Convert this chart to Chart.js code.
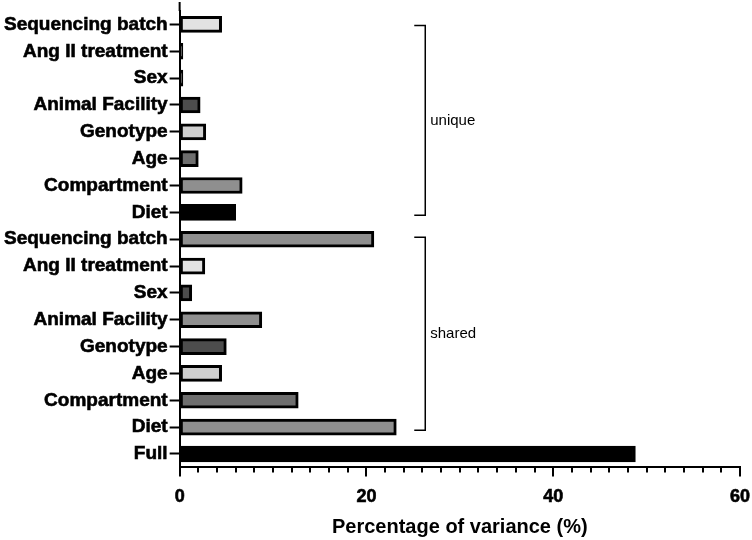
<!DOCTYPE html>
<html>
<head>
<meta charset="utf-8">
<script src="https://cdn.jsdelivr.net/npm/chart.js@4.4.0/dist/chart.umd.min.js"></script>
<style>
  html, body { margin: 0; padding: 0; background: #fff; }
  #wrap { width: 752px; height: 540px; }
</style>
</head>
<body>
<div id="wrap"><canvas id="chart" width="752" height="540"></canvas></div>
<script>
// Variance partitioning: unique and shared contributions
const categories = [
  'Sequencing batch', 'Ang II treatment', 'Sex', 'Animal Facility', 'Genotype', 'Age', 'Compartment', 'Diet',
  'Sequencing batch', 'Ang II treatment', 'Sex', 'Animal Facility', 'Genotype', 'Age', 'Compartment', 'Diet',
  'Full'
];
const variance = [
  4.5, 0.35, 0.35, 2.2, 2.8, 2.0, 6.7, 6.0,
  20.8, 2.7, 1.3, 8.8, 5.0, 4.5, 12.7, 23.2,
  48.8
];
const barColors = [
  '#e2e2e2', '#333333', '#333333', '#4d4d4d', '#cfcfcf', '#6e6e6e', '#8f8f8f', '#000000',
  '#8f8f8f', '#e2e2e2', '#4d4d4d', '#8f8f8f', '#4d4d4d', '#cfcfcf', '#6e6e6e', '#8f8f8f',
  '#000000'
];
const xTicks = [0, 20, 40, 60];
const groups = [
  { name: 'unique', from: 0, to: 7 },
  { name: 'shared', from: 8, to: 15 }
];

const FONT = "'Liberation Sans', Arial, sans-serif";

// brackets on the right plus x axis tick marks (major and minor)
const extras = {
  id: 'extras',
  afterDraw(chart) {
    const ctx = chart.ctx;
    const x = chart.scales.x, y = chart.scales.y;
    ctx.save();
    ctx.strokeStyle = '#000';
    ctx.fillStyle = '#000';

    // y axis line runs up to the top edge
    ctx.lineWidth = 2;
    ctx.beginPath();
    ctx.moveTo(x.left, 2);
    ctx.lineTo(x.left, y.top);
    ctx.stroke();

    // ticks: long at 0/20/40/60, short every 2 units
    for (let v = 0; v <= 60; v += 2) {
      const px = Math.round(x.getPixelForValue(v));
      const len = v % 20 === 0 ? 9 : 5;
      ctx.beginPath();
      ctx.moveTo(px, x.top);
      ctx.lineTo(px, x.top + len);
      ctx.stroke();
    }

    // group brackets
    ctx.lineWidth = 1.5;
    ctx.font = '15px ' + FONT;
    ctx.textBaseline = 'middle';
    const bx = x.getPixelForValue(26.3);
    groups.forEach(g => {
      const top = y.getPixelForValue(g.from) + (g.from === 0 ? 1 : -2);
      const bot = y.getPixelForValue(g.to) + 3;
      ctx.beginPath();
      ctx.moveTo(bx - 11, top);
      ctx.lineTo(bx, top);
      ctx.lineTo(bx, bot);
      ctx.lineTo(bx - 11, bot);
      ctx.stroke();
      ctx.fillText(g.name, bx + 5, (top + bot) / 2);
    });
    ctx.restore();
  }
};

new Chart(document.getElementById('chart').getContext('2d'), {
  type: 'bar',
  data: {
    labels: categories,
    datasets: [{
      data: variance,
      backgroundColor: barColors,
      borderColor: '#000',
      borderWidth: 3,
      borderSkipped: false,
      barThickness: 16
    }]
  },
  options: {
    indexAxis: 'y',
    responsive: false,
    animation: false,
    layout: { padding: { top: 0, right: 12, bottom: 1, left: 2 } },
    plugins: { legend: { display: false }, tooltip: { enabled: false } },
    scales: {
      x: {
        min: 0,
        max: 60,
        afterBuildTicks: axis => { axis.ticks = xTicks.map(v => ({ value: v })); },
        grid: { drawOnChartArea: false, tickLength: 19, tickColor: 'rgba(0,0,0,0)' },
        border: { color: '#000', width: 2 },
        ticks: {
          color: '#000', padding: 0,
          textStrokeColor: '#000', textStrokeWidth: 0.6,
          font: { family: FONT, size: 18, weight: 'bold' }
        },
        title: {
          display: true,
          text: 'Percentage of variance (%)',
          color: '#000',
          padding: { top: 7, bottom: 0 },
          font: { family: FONT, size: 20, weight: 'bold' }
        }
      },
      y: {
        grid: { offset: false, drawOnChartArea: false, tickLength: 10, tickWidth: 2, tickColor: '#000' },
        border: { color: '#000', width: 2 },
        ticks: {
          color: '#000', padding: 2, autoSkip: false,
          textStrokeColor: '#000', textStrokeWidth: 0.6,
          font: { family: FONT, size: 19, weight: 'bold', lineHeight: 0.95 }
        }
      }
    }
  },
  plugins: [extras]
});
</script>
</body>
</html>
